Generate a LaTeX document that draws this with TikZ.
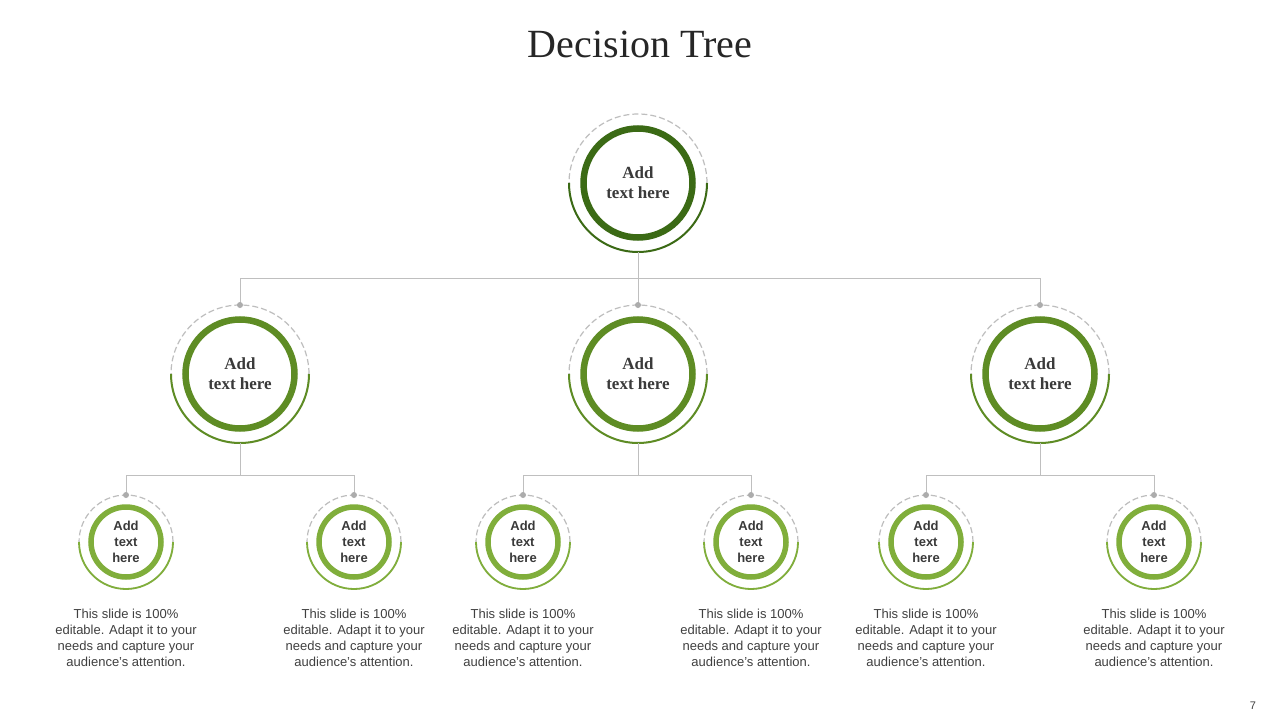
\documentclass[tikz,border=0pt]{standalone}
\usepackage{fontspec}
\setmainfont{Liberation Serif}
\setsansfont{Liberation Sans}
\definecolor{topg}{HTML}{3B6A15}
\definecolor{midg}{HTML}{5E8C24}
\definecolor{smallg}{HTML}{80AE3B}
\definecolor{lineg}{HTML}{BFBFBF}
\definecolor{dashg}{HTML}{BEBEBE}
\definecolor{txtc}{HTML}{3A3A3A}
\definecolor{desctxt}{HTML}{404040}
\begin{document}
\begin{tikzpicture}[x=1pt,y=-1pt,
  conn/.style={draw=lineg, line width=1pt},
  dotc/.style={circle, fill=lineg!90!black, draw=none, minimum size=6pt, inner sep=0},
  dashring/.style={circle, draw=dashg, dash pattern=on 6pt off 3pt, line width=1.2pt, inner sep=0, outer sep=0, minimum size=#1},
  bigring/.style={circle, draw=#1, line width=6.5pt, minimum size=109pt, inner sep=0, outer sep=0, align=center,
    font=\bfseries\fontsize{17}{20}\selectfont, text=txtc},
  smallring/.style={circle, draw=smallg, line width=5.5pt, minimum size=70pt, inner sep=0, outer sep=0, align=center,
    font=\sffamily\bfseries\fontsize{13}{16}\selectfont, text=txtc},
  desc/.style={align=center, font=\sffamily\fontsize{13}{16}\selectfont, text=desctxt, inner sep=0},
]
\useasboundingbox (0,0) rectangle (1280,720);
\fill[white] (0,0) rectangle (1280,720);

% title
\node[font=\fontsize{40}{44}\selectfont, text=black!85] (title) at (640,44) {Decision Tree};

% top
\node[dashring=138pt] (to) at (638,183) {};
\node[bigring=topg] (t) at (638,183) {Add\\text here};
\draw[topg, line width=2pt] (to.east) arc[start angle=0, end angle=180, radius=69];

% middle
\foreach \i/\x in {1/240,2/638,3/1040}{
  \node[dashring=138pt] (mo\i) at (\x,374) {};
  \node[bigring=midg] (m\i) at (\x,374) {Add\\text here};
  \draw[midg, line width=2pt] (mo\i.east) arc[start angle=0, end angle=180, radius=69];
}

% small
\foreach \i/\x in {1/126,2/354,3/523,4/751,5/926,6/1154}{
  \node[dashring=94pt] (so\i) at (\x,542) {};
  \node[smallring] (s\i) at (\x,542) {Add\\text\\here};
  \draw[smallg, line width=1.8pt] (so\i.east) arc[start angle=0, end angle=180, radius=47];
  \node[desc] (d\i) at (\x,638) {This slide is 100\%\\editable. Adapt it to your\\needs and capture your\\audience’s attention.};
}

% connectors
\coordinate (h0) at (638,278);
\draw[conn] (to.south) -- (h0);
\draw[conn] (h0) -| (mo1.north);
\draw[conn] (h0) -| (mo3.north);
\draw[conn] (h0) -- (mo2.north);

\coordinate (h1) at (240,475);
\coordinate (h2) at (638,475);
\coordinate (h3) at (1040,475);
\draw[conn] (mo1.south) -- (h1); \draw[conn] (h1) -| (so1.north); \draw[conn] (h1) -| (so2.north);
\draw[conn] (mo2.south) -- (h2); \draw[conn] (h2) -| (so3.north); \draw[conn] (h2) -| (so4.north);
\draw[conn] (mo3.south) -- (h3); \draw[conn] (h3) -| (so5.north); \draw[conn] (h3) -| (so6.north);

\foreach \n in {mo1,mo2,mo3,so1,so2,so3,so4,so5,so6}{
  \node[dotc] at (\n.north) {};
}

% page number
\node[font=\sffamily\fontsize{11}{13}\selectfont, text=desctxt] (pg) at (1253,706) {7};
\end{tikzpicture}
\end{document}
